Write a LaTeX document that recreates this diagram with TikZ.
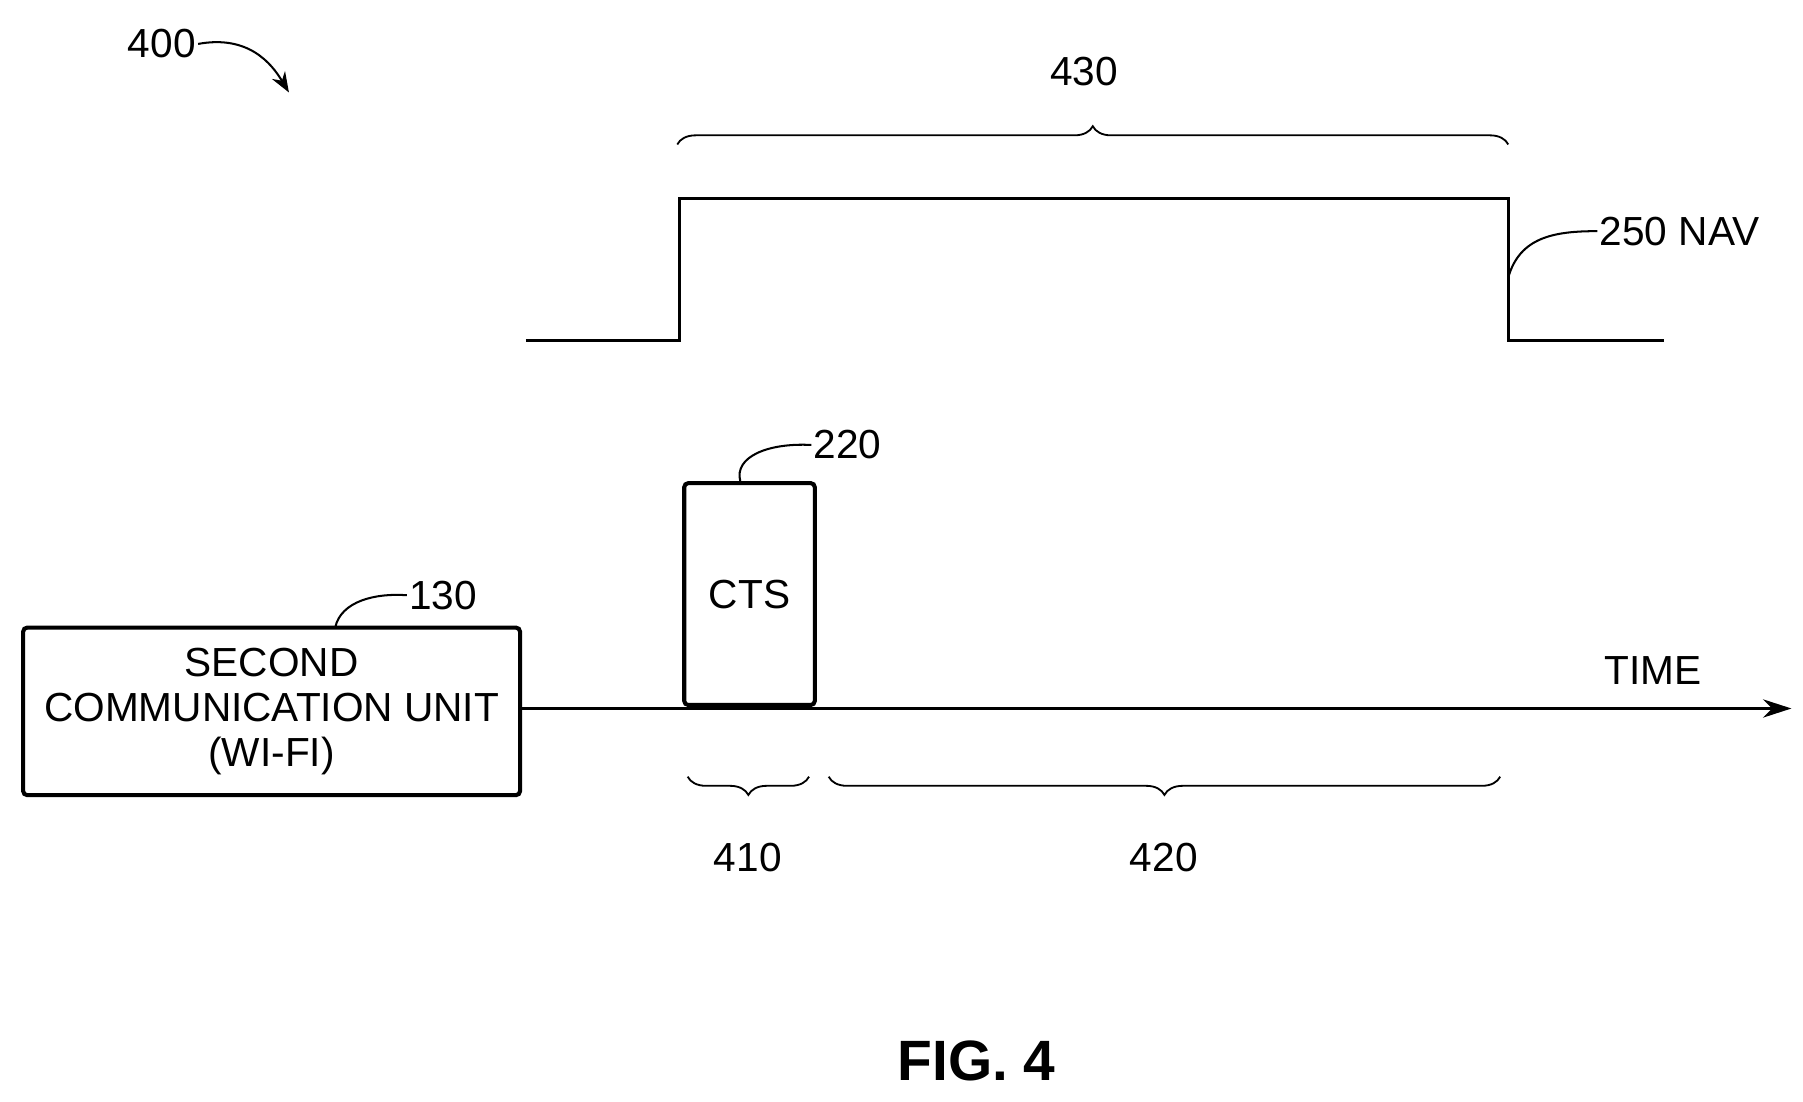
\documentclass[tikz,border=0pt]{standalone}
\usepackage{fontspec}
\setmainfont{Liberation Sans}
\usetikzlibrary{decorations.pathreplacing,arrows.meta}

\begin{document}
\begin{tikzpicture}[x=0.02cm,y=-0.02cm,
        lbl/.style = {font=\fontsize{20}{22}\selectfont, inner sep=1pt},
        blk/.style = {shape=rectangle, draw, line width=2pt, rounded corners=2pt,
          align=center, font=\fontsize{20}{22}\selectfont},
        brc/.style = {decorate, decoration={brace, amplitude=9pt}, line width=0.9pt},
        lead/.style = {line width=1pt}]
        \useasboundingbox (0,0) rectangle (1560,953);
        % reference numeral
        \node[lbl] (n400) at (140,38) {400};
        \draw[lead, -{Stealth[length=10pt]}] (n400.east) .. controls (215,30) and (235,55) .. (250,80);
        % NAV pulse
        \coordinate (p0) at (455,295);
        \coordinate (p1) at (588,295);
        \coordinate (p2) at (588,172);
        \coordinate (p3) at (1305,172);
        \coordinate (p4) at (1305,295);
        \coordinate (p5) at (1440,295);
        \draw[line width=1.5pt] (p0) -- (p1) -- (p2) -- (p3) -- (p4) -- (p5);
        \draw[brc] (586,125) -- (1305,125);
        \node[lbl] (n430) at (938,62) {430};
        \node[lbl, anchor=west] (nav) at (1382,200) {250 NAV};
        \draw[lead] (1305,240) .. controls (1315,205) and (1345,200) .. (nav.west);
        % blocks on the time axis
        \node[blk, minimum width=2.26cm, minimum height=3.84cm] (cts) at (648.5,514) {CTS};
        \node[blk, minimum width=8.6cm, minimum height=2.9cm] (unit) at (235,615.5)
          {SECOND\\COMMUNICATION UNIT\\(WI-FI)};
        \coordinate (tend) at (1550,613);
        \draw[line width=1.5pt, -{Stealth[length=14pt,width=9pt]}] (unit.east |- tend) -- (tend);
        \node[lbl] (time) at (1430,580) {TIME};
        \node[lbl, anchor=west] (n220) at (702,385) {220};
        \draw[lead] (cts.north) ++(-8,0) .. controls (635,395) and (665,383) .. (n220.west);
        \node[lbl, anchor=west] (n130) at (352,515) {130};
        \draw[lead] (290,543) .. controls (295,520) and (325,513) .. (n130.west);
        % durations
        \draw[brc] (700,672) -- (595,672);
        \draw[brc] (1298,672) -- (717,672);
        \node[lbl] (n410) at (647,742) {410};
        \node[lbl] (n420) at (1007,742) {420};
        \node[font=\bfseries\fontsize{28}{30}\selectfont] (fig) at (845,918) {FIG. 4};
\end{tikzpicture}
\end{document}
